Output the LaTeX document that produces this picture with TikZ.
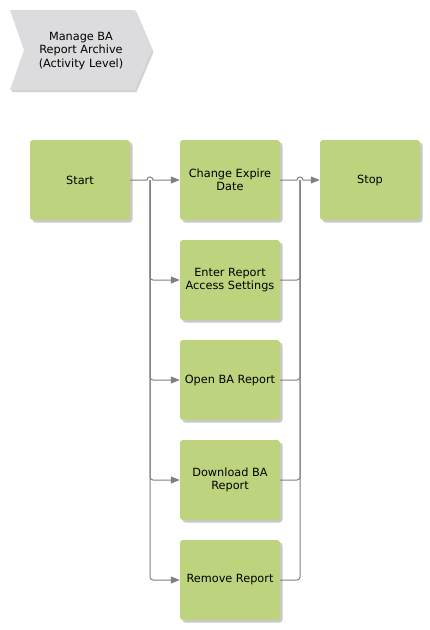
\documentclass[tikz,border=0pt]{standalone}
\usepackage{fontspec}
\setmainfont{DejaVu Sans}
\usetikzlibrary{shadows,arrows.meta,calc}
\definecolor{boxgreen}{HTML}{BDD37D}
\definecolor{chevgray}{HTML}{DCDCDE}
\definecolor{linegray}{HTML}{808080}
\tikzset{
  actbox/.style={rectangle, rounded corners=3pt, minimum width=100pt, minimum height=80pt,
    fill=boxgreen, align=center, font=\fontsize{11.3}{13.5}\selectfont, inner sep=2pt,
    drop shadow={shadow xshift=2.5pt, shadow yshift=-2.5pt, fill=black!30, opacity=0.7}},
  conn/.style={draw=linegray, line width=1pt},
  arr/.style={conn, -{Triangle[length=9pt,width=7pt,fill=linegray]}},
}
\begin{document}
\begin{tikzpicture}[x=1pt,y=-1pt]
\useasboundingbox (0,0) rectangle (430,630);
% chevron
\draw[fill=chevgray, draw=none, drop shadow={shadow xshift=1.5pt, shadow yshift=-2pt, fill=black!25, opacity=0.7}]
  (10,10) -- (135,10) -- (152,50) -- (135,90) -- (10,90) -- (24,50) -- cycle;
\node[align=center, font=\fontsize{11.3}{13.5}\selectfont] (title) at (81,51) {Manage BA\\Report Archive\\(Activity Level)};
% boxes
\node[actbox] (start) at (80,180) {Start};
\node[actbox] (change) at (230,180) {Change Expire\\Date};
\node[actbox] (stop) at (370,180) {Stop};
\node[actbox] (enter) at (230,280) {Enter Report\\Access Settings};
\node[actbox] (open) at (230,380) {Open BA Report};
\node[actbox] (download) at (230,480) {Download BA\\Report};
\node[actbox] (remove) at (230,580) {Remove Report};
% bus coordinates
\coordinate (bl) at (150,180);
\coordinate (br) at (300,180);
% start to change with line hop
\draw[arr] (start.east) -- ($(bl)+(-3,0)$) .. controls +(0,-4) and +(0,-4) .. ($(bl)+(3,0)$) -- (change.west);
% left bus
\draw[arr, rounded corners=3pt] (bl) |- (enter.west);
\draw[arr, rounded corners=3pt] (bl) |- (open.west);
\draw[arr, rounded corners=3pt] (bl) |- (download.west);
\draw[arr, rounded corners=3pt] (bl) |- (remove.west);
% right bus
\draw[conn, rounded corners=3pt] (enter.east) -| (br);
\draw[conn, rounded corners=3pt] (open.east) -| (br);
\draw[conn, rounded corners=3pt] (download.east) -| (br);
\draw[conn, rounded corners=3pt] (remove.east) -| (br);
% change to stop with line hop
\draw[arr] (change.east) -- ($(br)+(-3,0)$) .. controls +(0,-4) and +(0,-4) .. ($(br)+(3,0)$) -- (stop.west);
\end{tikzpicture}
\end{document}
